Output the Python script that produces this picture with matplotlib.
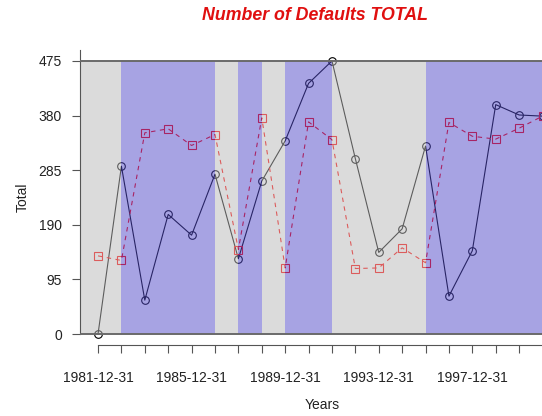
import matplotlib
matplotlib.use('Agg')
import matplotlib.pyplot as plt
import numpy as np

plt.rcParams['font.family'] = ['Liberation Sans', 'DejaVu Sans']

# yearly observations, 1981-12-31 .. 2000-12-31
years = np.arange(1981, 2001)
total_a = [0, 292, 59, 208, 172, 278, 131, 266, 336, 436,
           475, 305, 142, 183, 327, 66, 145, 399, 381, 379]
total_b = [136, 128, 350, 357, 328, 347, 147, 376, 115, 369,
           338, 114, 115, 150, 124, 368, 344, 339, 358, 379]

# shaded periods (start year, end year, kind)
periods = [(1980.23, 1982, 'g'), (1982, 1986, 'b'), (1986, 1987, 'g'),
           (1987, 1988, 'b'), (1988, 1989, 'g'), (1989, 1991, 'b'),
           (1991, 1995, 'g'), (1995, 2000.4, 'b')]
yticks = [0, 95, 190, 285, 380, 475]
label_years = [1981, 1985, 1989, 1993, 1997]

fig = plt.figure(figsize=(5.42, 4.16), dpi=100)
ax = fig.add_axes([80 / 542, 71 / 416, 470 / 542, 295 / 416])

# lines first, shading drawn over them with transparency
ax.plot(years, total_a, color='black', lw=0.8, marker='o', ms=5.5,
        mfc='none', mec='black', mew=0.8, zorder=1)
ax.plot(years, total_b, color='red', lw=0.8, ls=(0, (4, 4)), marker='s', ms=6,
        mfc='none', mec='red', mew=0.8, zorder=1)

for x0, x1, kind in periods:
    c = '#b9b9b9' if kind == 'g' else '#5149c9'
    ax.fill_between([x0, x1], 0, 475, color=c, alpha=0.5, lw=0, zorder=2)

ax.axhline(0, color='#6a6a6a', lw=1.4, zorder=3)
ax.axhline(475, color='#6a6a6a', lw=1.4, zorder=3)

ax.set_xlim(1980.23, 2000.32)
ax.set_ylim(-19, 494)

ax.spines['top'].set_visible(False)
ax.spines['right'].set_visible(False)
ax.spines['left'].set_bounds(0, 494)
ax.spines['bottom'].set_bounds(1981, 2000.32)
ax.spines['left'].set_color('#555555')
ax.spines['bottom'].set_color('#555555')

ax.set_yticks(yticks)
ax.set_yticklabels([str(v) for v in yticks])
ax.set_xticks(years)
ax.set_xticklabels([f'{y}-12-31' if y in label_years else '' for y in years])
ax.tick_params(axis='both', labelsize=10, length=6, color='#555555', labelcolor='#222222')
ax.tick_params(axis='x', pad=13)
ax.tick_params(axis='y', pad=7)

ax.set_ylabel('Total', fontsize=10, color='#222222', labelpad=6)
fig.text(322 / 542, 1 - 405 / 416, 'Years', ha='center', va='center',
         fontsize=10, color='#222222')
fig.text(315 / 542, 1 - 16 / 416, 'Number of Defaults TOTAL', ha='center', va='center',
         fontsize=12.8, fontweight='bold', fontstyle='italic', color='#e01010')

fig.savefig('out.png', dpi=100)
